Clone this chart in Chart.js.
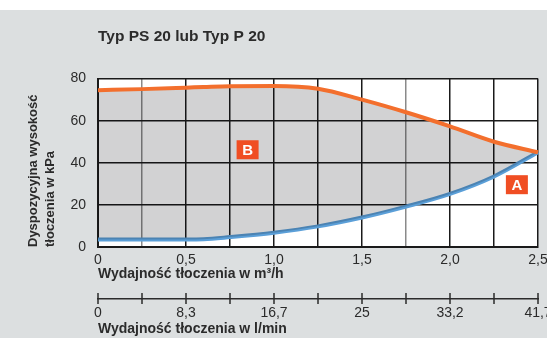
<!DOCTYPE html>
<html>
<head>
<meta charset="utf-8">
<script src="https://cdn.jsdelivr.net/npm/chart.js@4.4.0/dist/chart.umd.min.js"></script>
<style>
  html, body { margin: 0; padding: 0; background: #dcdfe0; }
  #wrap { width: 547px; height: 338px; }
</style>
</head>
<body>
<div id="wrap"><canvas id="wykres" width="547" height="338"></canvas></div>
<script>
// wydajność w m3/h
const wydajnosc = [0, 0.25, 0.5, 0.6, 0.75, 1.0, 1.25, 1.5, 1.75, 2.0, 2.25, 2.5];
// krzywa B (max), kPa
const krzywaB = [74.5, 75, 75.7, 76, 76.4, 76.5, 75.2, 70, 64, 57.3, 50, 45];
// krzywa A (min), kPa
const krzywaA = [3.6, 3.6, 3.6, 3.7, 4.7, 6.8, 9.8, 14, 19.2, 25.2, 33.5, 45];
// podziałka osi wydajności (m3/h)
const podzialka = [0, 0.25, 0.5, 0.75, 1.0, 1.25, 1.5, 1.75, 2.0, 2.25, 2.5];
// opisy osi m3/h i l/min
const etykietyM3h = ['0', '', '0,5', '', '1,0', '', '1,5', '', '2,0', '', '2,5'];
const etykietyLmin = ['0', '', '8,3', '', '16,7', '', '25', '', '33,2', '', '41,7'];
// linie siatki rysowane na szaro
const szareLinie = [0.25, 1.75];
// pozycje znaczników A i B
const znaczniki = [
    { tekst: 'B', x: 0.85, y: 46.2 },
    { tekst: 'A', x: 2.38, y: 29.6 }
];

const FONT = "'Liberation Sans', Arial, sans-serif";
const CIEMNY = '#2b2b2b';
const SIATKA = '#1a1a1a';

const tloPlugin = {
    id: 'tlo',
    beforeDraw(chart) {
        const ctx = chart.ctx;
        ctx.save();
        ctx.fillStyle = '#ffffff';
        ctx.fillRect(0, 0, chart.width, 10);
        ctx.fillStyle = '#dcdfe0';
        ctx.fillRect(0, 10, chart.width, chart.height - 10);
        const a = chart.chartArea;
        ctx.fillStyle = '#ffffff';
        ctx.fillRect(a.left, a.top, a.right - a.left, a.bottom - a.top);
        ctx.restore();
    }
};

// kreski na drugiej osi (przecinają linię)
const osLminPlugin = {
    id: 'osLmin',
    afterDraw(chart) {
        const s = chart.scales.x2;
        const ctx = chart.ctx;
        ctx.save();
        ctx.strokeStyle = CIEMNY;
        ctx.lineWidth = 1.5;
        s.ticks.forEach((t, i) => {
            const px = s.getPixelForTick(i);
            ctx.beginPath();
            ctx.moveTo(px, s.top - 6);
            ctx.lineTo(px, s.top + 5);
            ctx.stroke();
        });
        ctx.restore();
    }
};

const znacznikiPlugin = {
    id: 'znaczniki',
    afterDatasetsDraw(chart) {
        const ctx = chart.ctx;
        const sx = chart.scales.x, sy = chart.scales.y;
        ctx.save();
        znaczniki.forEach(z => {
            const px = sx.getPixelForValue(z.x);
            const py = sy.getPixelForValue(z.y);
            ctx.fillStyle = '#f04e23';
            ctx.fillRect(px - 11, py - 9.5, 22, 19);
            ctx.fillStyle = '#ffffff';
            ctx.font = 'bold 15px ' + FONT;
            ctx.textAlign = 'center';
            ctx.textBaseline = 'middle';
            ctx.fillText(z.tekst, px, py + 1);
        });
        ctx.restore();
    }
};

function ustawPodzialke(s) {
    s.ticks = podzialka.map(v => ({ value: v }));
}

new Chart(document.getElementById('wykres'), {
    type: 'line',
    data: {
        datasets: [
            {
                label: 'B',
                data: wydajnosc.map((x, i) => ({ x: x, y: krzywaB[i] })),
                borderColor: '#f36f2d',
                borderWidth: 4,
                pointRadius: 0,
                cubicInterpolationMode: 'monotone',
                fill: { target: 1 },
                backgroundColor: 'rgba(0, 2, 6, 0.175)',
                clip: 4
            },
            {
                label: 'A',
                data: wydajnosc.map((x, i) => ({ x: x, y: krzywaA[i] })),
                borderColor: '#5b9fd8',
                borderWidth: 4,
                pointRadius: 0,
                cubicInterpolationMode: 'monotone',
                fill: false,
                clip: 4
            }
        ]
    },
    options: {
        responsive: false,
        animation: false,
        layout: { padding: { left: 0, right: 9, top: 0, bottom: 0 } },
        plugins: {
            legend: { display: false },
            tooltip: { enabled: false },
            title: {
                display: true,
                text: 'Typ PS 20 lub Typ P 20',
                align: 'start',
                fullSize: false,
                color: CIEMNY,
                font: { family: FONT, size: 15.5, weight: 'bold' },
                padding: { top: 27, bottom: 33 }
            }
        },
        scales: {
            x: {
                type: 'linear',
                min: 0,
                max: 2.5,
                afterBuildTicks: ustawPodzialke,
                afterFit(s) {
                    s.height = 52;
                    s.paddingLeft = 0;
                    s.paddingRight = 0;
                },
                ticks: {
                    autoSkip: false,
                    maxRotation: 0,
                    padding: 5,
                    color: CIEMNY,
                    font: { family: FONT, size: 14 },
                    callback: (v, i) => etykietyM3h[i]
                },
                grid: {
                    color: c => szareLinie.includes(c.tick ? c.tick.value : -1) ? '#8a8a8a' : SIATKA,
                    lineWidth: 1.5,
                    drawTicks: false
                },
                border: { color: SIATKA, width: 2 },
                title: {
                    display: true,
                    text: 'Wydajność tłoczenia w m³/h',
                    align: 'start',
                    color: CIEMNY,
                    font: { family: FONT, size: 14, weight: 'bold' },
                    padding: { top: 0, bottom: 16 }
                }
            },
            x2: {
                type: 'linear',
                position: 'bottom',
                min: 0,
                max: 2.5,
                afterBuildTicks: ustawPodzialke,
                afterFit(s) {
                    s.height = 39;
                    s.paddingLeft = 0;
                    s.paddingRight = 0;
                },
                ticks: {
                    autoSkip: false,
                    maxRotation: 0,
                    padding: 6,
                    color: CIEMNY,
                    font: { family: FONT, size: 14 },
                    callback: (v, i) => etykietyLmin[i]
                },
                grid: { display: false, drawTicks: false },
                border: { display: true, color: CIEMNY, width: 1.5 },
                title: {
                    display: true,
                    text: 'Wydajność tłoczenia w l/min',
                    align: 'start',
                    color: CIEMNY,
                    font: { family: FONT, size: 14, weight: 'bold' },
                    padding: { top: 0, bottom: 0 }
                }
            },
            y: {
                min: 0,
                max: 80,
                afterFit(s) {
                    s.width = 98;
                },
                ticks: {
                    stepSize: 20,
                    padding: 12,
                    color: CIEMNY,
                    font: { family: FONT, size: 14 }
                },
                grid: {
                    color: SIATKA,
                    lineWidth: 1.5,
                    drawTicks: false
                },
                border: { color: SIATKA, width: 2 },
                title: {
                    display: true,
                    text: ['Dyspozycyjna wysokość', 'tłoczenia w kPa'],
                    align: 'start',
                    color: CIEMNY,
                    font: { family: FONT, size: 13, weight: 'bold', lineHeight: 1.3 },
                    padding: { top: 25, bottom: 0 }
                }
            }
        }
    },
    plugins: [tloPlugin, osLminPlugin, znacznikiPlugin]
});
</script>
</body>
</html>
